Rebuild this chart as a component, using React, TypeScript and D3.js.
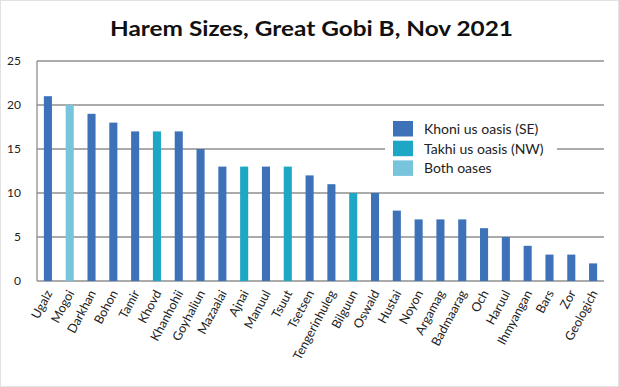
import React from 'react';
import * as d3 from 'd3';

// harem data
const stallions = ['Ugalz', 'Mogoi', 'Darkhan', 'Bohon', 'Tamir', 'Khovd', 'Khanhohii', 'Goyhaliun',
  'Mazaalai', 'Ajnai', 'Manuul', 'Tsuut', 'Tsetsen', 'Tengerinhuleg', 'Bilguun', 'Oswald', 'Hustai',
  'Noyon', 'Argamag', 'Badmaarag', 'Och', 'Haruul', 'Ihmyangan', 'Bars', 'Zor', 'Geologich'];
const haremSizes = [21, 20, 19, 18, 17, 17, 17, 15, 13, 13, 13, 13, 12, 11, 10, 10, 8, 7, 7, 7, 6, 5, 4, 3, 3, 2];
// 0 = Khoni us, 1 = Takhi us, 2 = both
const oasis = [0, 2, 0, 0, 0, 1, 0, 0, 0, 1, 0, 1, 0, 0, 1, 0, 0, 0, 0, 0, 0, 0, 0, 0, 0, 0];
const legendLabels = ['Khoni us oasis (SE)', 'Takhi us oasis (NW)', 'Both oases'];
const oasisColors = ['#3d72b9', '#1da7c5', '#78c4dd'];
const yTicks = [0, 5, 10, 15, 20, 25];

const W = 619, H = 387;
const margin = { left: 37, right: 15, top: 61, bottom: 106 };

export default function App() {
  const x = d3.scaleBand<string>()
    .domain(stallions)
    .range([margin.left, W - margin.right])
    .paddingInner(0.63)
    .paddingOuter(0.315);
  const y = d3.scaleLinear().domain([0, 25]).range([H - margin.bottom, margin.top]);
  const color = d3.scaleOrdinal<number, string>().domain([0, 1, 2]).range(oasisColors);

  const font = 'Lato, "Open Sans", sans-serif';

  return (
    <svg width={W} height={H} style={{ position: 'absolute', left: 0, top: 0, background: '#fff' }}>
      <rect x={0.5} y={0.5} width={W - 1} height={H - 1} fill="#fff" stroke="#e2e2e2" />
      <text x={311.5} y={36} textAnchor="middle" fontFamily={font} fontWeight="bold" fontSize={21}
        textLength={403} lengthAdjust="spacingAndGlyphs" fill="#111">
        Harem Sizes, Great Gobi B, Nov 2021
      </text>

      {yTicks.map(t => (
        <g key={t}>
          <line x1={margin.left} x2={W - margin.right} y1={y(t)} y2={y(t)} stroke="#8f8f8f" strokeWidth={1.3} />
          <text x={21} y={y(t)} dy="0.35em" textAnchor="end" fontFamily={font} fontSize={12} fill="#222">{t}</text>
        </g>
      ))}
      <line x1={margin.left} x2={margin.left} y1={y(25)} y2={y(0)} stroke="#8f8f8f" strokeWidth={1.3} />

      {/* legend sits on a white box over the gridlines */}
      <rect x={385} y={112} width={172} height={72} fill="#fff" />
      {legendLabels.map((l, i) => (
        <g key={l} transform={`translate(393, ${121 + i * 19.7})`}>
          <rect width={20} height={15.5} fill={oasisColors[i]} />
          <text x={31} y={8} dy="0.35em" fontFamily={font} fontSize={14} fill="#222">{l}</text>
        </g>
      ))}

      {stallions.map((s, i) => (
        <rect key={s} x={x(s)} y={y(haremSizes[i])} width={x.bandwidth()}
          height={y(0) - y(haremSizes[i])} fill={color(oasis[i])} />
      ))}

      {stallions.map(s => {
        const cx = (x(s) ?? 0) + x.bandwidth() / 2;
        return (
          <text key={s} transform={`translate(${cx + 1}, 291) rotate(-62)`} textAnchor="end"
            dy="0.35em" fontFamily={font} fontSize={12.5} fill="#222">{s}</text>
        );
      })}
    </svg>
  );
}
